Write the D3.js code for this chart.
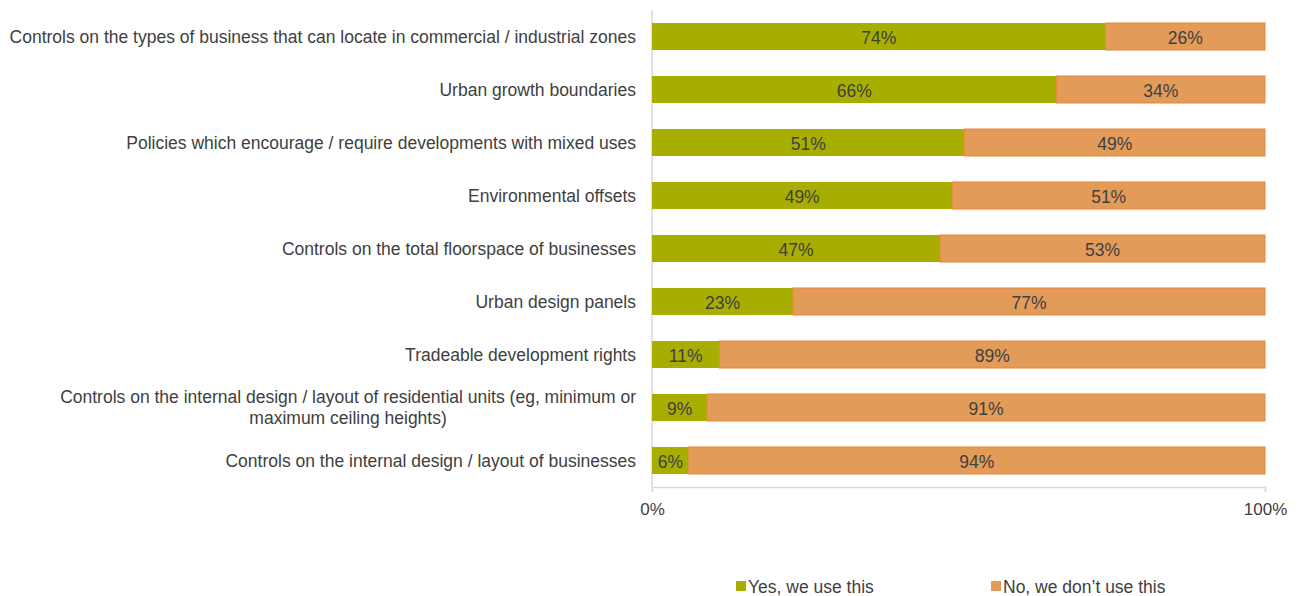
<!DOCTYPE html>
<html>
<head>
<meta charset="utf-8">
<script src="https://cdn.jsdelivr.net/npm/d3@7"></script>
<style>
  html, body { margin: 0; padding: 0; background: #ffffff; }
  svg { display: block; font-family: "Liberation Sans", Arial, sans-serif; }
</style>
</head>
<body>
<svg id="chart" width="1301" height="596"></svg>
<script>
// Survey responses: share of councils using each planning tool
const categories = [
  "Controls on the types of business that can locate in commercial / industrial zones",
  "Urban growth boundaries",
  "Policies which encourage / require developments with mixed uses",
  "Environmental offsets",
  "Controls on the total floorspace of businesses",
  "Urban design panels",
  "Tradeable development rights",
  "Controls on the internal design / layout of residential units (eg, minimum or|maximum ceiling heights)",
  "Controls on the internal design / layout of businesses"
];
const yesValues = [74, 66, 51, 49, 47, 23, 11, 9, 6];
const noValues  = [26, 34, 49, 51, 53, 77, 89, 91, 94];
const seriesNames = ["Yes, we use this", "No, we don\u2019t use this"];
const tickLabels = ["0%", "100%"];

const colors = { yes: "#A8AE00", no: "#E39B5A", noStroke: "#E8893A", text: "#404040", axis: "#D9D9D9" };
const fontSize = "17.5px";

const svg = d3.select("#chart");
const margin = { left: 652, right: 36, top: 10, bottom: 109 };
const width = 1301, height = 596;

const x = d3.scaleLinear().domain([0, 100]).range([margin.left, width - margin.right]);
const y = d3.scaleBand().domain(d3.range(categories.length))
  .range([margin.top, height - margin.bottom]).paddingInner(0.49).paddingOuter(0.245);

const rows = categories.map((c, i) => ({ c, i, yes: yesValues[i], no: noValues[i] }));

// Value axis line with end ticks
const xAxis = d3.axisBottom(x).tickValues([0, 100]).tickFormat((d, i) => tickLabels[i]).tickSize(5).tickPadding(11);
const gx = svg.append("g").attr("transform", `translate(0,${height - margin.bottom})`).call(xAxis);
gx.select(".domain").attr("stroke", colors.axis).attr("stroke-width", 1.5);
gx.selectAll(".tick line").attr("stroke", colors.axis).attr("stroke-width", 1.5);
gx.selectAll(".tick text").attr("fill", colors.text).style("font-size", "17px")
  .style("font-family", "'Liberation Sans', Arial, sans-serif");

// Category axis line
svg.append("line")
  .attr("x1", x(0)).attr("x2", x(0))
  .attr("y1", margin.top).attr("y2", height - margin.bottom)
  .attr("stroke", colors.axis).attr("stroke-width", 1.5);

// Stacked bars
const g = svg.append("g");
g.selectAll("rect.yes").data(rows).join("rect").attr("class", "yes")
  .attr("x", d => x(0)).attr("y", d => y(d.i))
  .attr("width", d => x(d.yes) - x(0)).attr("height", y.bandwidth())
  .attr("fill", colors.yes);

g.selectAll("rect.no").data(rows).join("rect").attr("class", "no")
  .attr("x", d => x(d.yes)).attr("y", d => y(d.i))
  .attr("width", d => x(d.yes + d.no) - x(d.yes)).attr("height", y.bandwidth())
  .attr("fill", colors.no).attr("stroke", colors.noStroke).attr("stroke-width", 1);

// Value labels centred in each segment
const labelStyle = sel => sel.attr("fill", colors.text).attr("text-anchor", "middle")
  .attr("dominant-baseline", "central").style("font-size", fontSize);
g.selectAll("text.yesLbl").data(rows).join("text").attr("class", "yesLbl")
  .attr("x", d => (x(0) + x(d.yes)) / 2).attr("y", d => y(d.i) + y.bandwidth() / 2 + 1)
  .text(d => d.yes + "%").call(labelStyle);
g.selectAll("text.noLbl").data(rows).join("text").attr("class", "noLbl")
  .attr("x", d => (x(d.yes) + x(100)) / 2).attr("y", d => y(d.i) + y.bandwidth() / 2 + 1)
  .text(d => d.no + "%").call(labelStyle);

// Category labels, right aligned and centred on each bar (multi-line where split)
const catG = svg.append("g");
const labelRight = 636;
rows.forEach(d => {
  const lines = d.c.split("|");
  const cy = y(d.i) + y.bandwidth() / 2;
  const lh = 21;
  const t = catG.append("text").attr("fill", colors.text).style("font-size", fontSize);
  lines.forEach((ln, k) => {
    t.append("tspan")
      .attr("x", labelRight).attr("text-anchor", "end")
      .attr("y", cy + (k - (lines.length - 1) / 2) * lh)
      .attr("dominant-baseline", "central")
      .text(ln);
  });
});
// Continuation lines of a wrapped label are centred under the first line
catG.selectAll("text").each(function () {
  const tsp = d3.select(this).selectAll("tspan").nodes();
  if (tsp.length > 1) {
    const w0 = tsp[0].getComputedTextLength();
    const cx = labelRight - w0 / 2;
    tsp.slice(1).forEach(n => d3.select(n).attr("x", cx).attr("text-anchor", "middle"));
  }
});

// Legend
const legend = svg.append("g");
const legendItems = [
  { name: seriesNames[0], color: colors.yes, x: 736 },
  { name: seriesNames[1], color: colors.no, x: 991 }
];
legendItems.forEach(it => {
  legend.append("rect").attr("x", it.x).attr("y", 581).attr("width", 10).attr("height", 10).attr("fill", it.color);
  legend.append("text").attr("x", it.x + 12).attr("y", 587).attr("dominant-baseline", "central")
    .attr("fill", colors.text).style("font-size", fontSize).text(it.name);
});
</script>
</body>
</html>
